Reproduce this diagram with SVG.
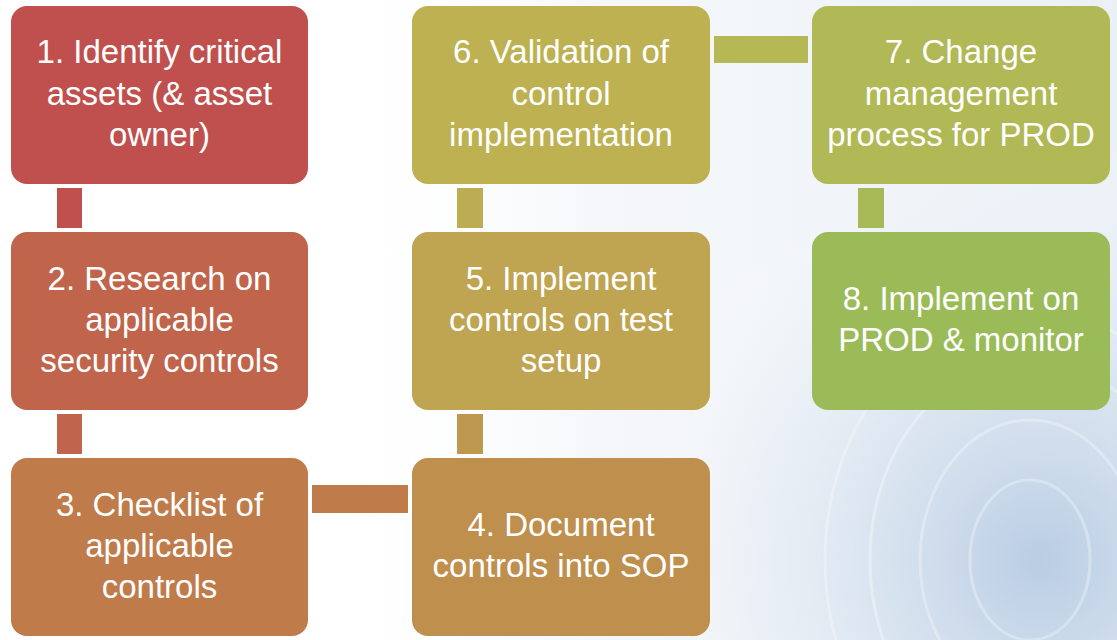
<svg xmlns="http://www.w3.org/2000/svg" width="1117" height="640" viewBox="0 0 1117 640">
<defs>
<radialGradient id="bgGlow" cx="1040" cy="560" r="420" gradientUnits="userSpaceOnUse">
<stop offset="0" stop-color="#a3bddb" stop-opacity="0.7"/>
<stop offset="0.35" stop-color="#bdd0e5" stop-opacity="0.5"/>
<stop offset="0.7" stop-color="#dfe8f2" stop-opacity="0.35"/>
<stop offset="1" stop-color="#ffffff" stop-opacity="0"/>
</radialGradient>
<linearGradient id="bgFade" x1="0" y1="0" x2="1" y2="0">
<stop offset="0" stop-color="#ffffff" stop-opacity="0"/>
<stop offset="0.35" stop-color="#eef2f7" stop-opacity="0.6"/>
<stop offset="1" stop-color="#e6edf5" stop-opacity="0.8"/>
</linearGradient>
</defs>
<style>
.box{stroke:none}
.lbl{font-family:"Liberation Sans",Arial,sans-serif;font-size:33px;fill:#ffffff;text-anchor:middle}
.arc{fill:none;stroke:#ffffff;stroke-opacity:0.3;stroke-width:3}
</style>
<rect width="1117" height="640" fill="#ffffff"/>
<rect x="320" y="0" width="797" height="640" fill="url(#bgFade)"/>
<rect width="1117" height="640" fill="url(#bgGlow)"/>
<g id="background-art">
<ellipse class="arc" cx="1030" cy="560" rx="60" ry="80"/>
<ellipse class="arc" cx="1030" cy="560" rx="110" ry="140"/>
<ellipse class="arc" cx="1030" cy="560" rx="160" ry="200"/>
<ellipse class="arc" cx="1030" cy="560" rx="205" ry="250"/>
</g>
<g id="connectors">
<rect x="57" y="188" width="25" height="40" fill="#C0504D"/>
<rect x="57" y="414" width="25" height="40" fill="#C0644B"/>
<rect x="312" y="485" width="96" height="28" fill="#C07B4B"/>
<rect x="457" y="414" width="26" height="40" fill="#BF984F"/>
<rect x="457" y="188" width="26" height="40" fill="#BDAD52"/>
<rect x="714" y="36" width="94" height="27" fill="#B5B854"/>
<rect x="858" y="188" width="26" height="40" fill="#A7BA57"/>
</g>
<g id="node1">
<rect class="box" x="11" y="6" width="297" height="178" rx="16" fill="#C0504D"/>
<text class="lbl" x="159.5" y="63">1. Identify critical</text>
<text class="lbl" x="159.5" y="105">assets (&amp; asset</text>
<text class="lbl" x="159.5" y="146">owner)</text>
</g>
<g id="node2">
<rect class="box" x="11" y="232" width="297" height="178" rx="16" fill="#C0644B"/>
<text class="lbl" x="159.5" y="290">2. Research on</text>
<text class="lbl" x="159.5" y="331">applicable</text>
<text class="lbl" x="159.5" y="372">security controls</text>
</g>
<g id="node3">
<rect class="box" x="11" y="458" width="297" height="178" rx="16" fill="#C07B4B"/>
<text class="lbl" x="159.5" y="516">3. Checklist of</text>
<text class="lbl" x="159.5" y="557">applicable</text>
<text class="lbl" x="159.5" y="598">controls</text>
</g>
<g id="node4">
<rect class="box" x="412" y="458" width="298" height="178" rx="16" fill="#BF8F4E"/>
<text class="lbl" x="561" y="536">4. Document</text>
<text class="lbl" x="561" y="577">controls into SOP</text>
</g>
<g id="node5">
<rect class="box" x="412" y="232" width="298" height="178" rx="16" fill="#BFA451"/>
<text class="lbl" x="561" y="290">5. Implement</text>
<text class="lbl" x="561" y="331">controls on test</text>
<text class="lbl" x="561" y="372">setup</text>
</g>
<g id="node6">
<rect class="box" x="412" y="6" width="298" height="178" rx="16" fill="#BDB152"/>
<text class="lbl" x="561" y="63">6. Validation of</text>
<text class="lbl" x="561" y="105">control</text>
<text class="lbl" x="561" y="146">implementation</text>
</g>
<g id="node7">
<rect class="box" x="812" y="6" width="298" height="178" rx="16" fill="#B0B955"/>
<text class="lbl" x="961" y="63">7. Change</text>
<text class="lbl" x="961" y="105">management</text>
<text class="lbl" x="961" y="146">process for PROD</text>
</g>
<g id="node8">
<rect class="box" x="812" y="232" width="298" height="178" rx="16" fill="#9BBB59"/>
<text class="lbl" x="961" y="310">8. Implement on</text>
<text class="lbl" x="961" y="351">PROD &amp; monitor</text>
</g>
</svg>
